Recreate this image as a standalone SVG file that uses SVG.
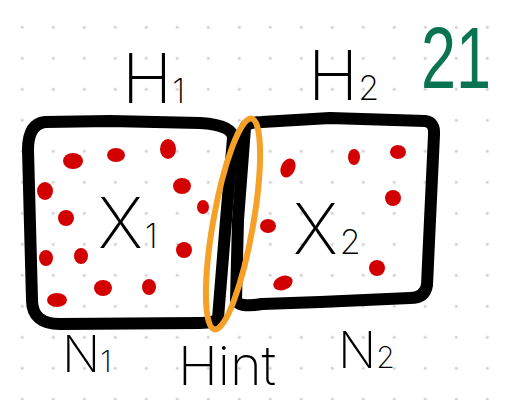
<svg xmlns="http://www.w3.org/2000/svg" width="506" height="400" viewBox="0 0 506 400">
<defs>
<pattern id="grid" x="22.3" y="27.3" width="31" height="31" patternUnits="userSpaceOnUse">
<circle cx="0" cy="0" r="1.6" fill="#cfcfcf"/><circle cx="31" cy="0" r="1.6" fill="#cfcfcf"/><circle cx="0" cy="31" r="1.6" fill="#cfcfcf"/><circle cx="31" cy="31" r="1.6" fill="#cfcfcf"/>
</pattern>
</defs>
<style>
.box{fill:none;stroke:#000;stroke-width:12;stroke-linejoin:round;stroke-linecap:round}
.dot{fill:#d20000}
.t{font-family:"Inter","DejaVu Sans",sans-serif;font-weight:200;fill:#000}
.hint{fill:none;stroke:#f5a027;stroke-width:6}
</style>
<rect width="506" height="400" fill="#fff"/>
<rect width="506" height="400" fill="url(#grid)"/>
<g id="box1">
<path class="box" d="M45,122 L110,121 L200,123 Q233,125 233,138 L226,220 L218,318 Q215,323 200,323 L60,324 Q32,324 32,300 L28,150 Q28,124 45,122 Z"/>
<g class="dot">
<ellipse cx="73" cy="161" rx="10" ry="8"/><ellipse cx="116" cy="155" rx="9" ry="7"/><ellipse cx="168" cy="149" rx="8" ry="10"/>
<ellipse cx="45" cy="191" rx="8" ry="9"/><ellipse cx="182" cy="186" rx="9" ry="8"/><ellipse cx="66" cy="218" rx="8" ry="8"/>
<ellipse cx="203" cy="207" rx="6" ry="7"/><ellipse cx="46" cy="258" rx="7" ry="8"/><ellipse cx="81" cy="256" rx="7" ry="8"/>
<ellipse cx="184" cy="250" rx="8" ry="8"/><ellipse cx="57" cy="300" rx="10" ry="7"/><ellipse cx="103" cy="288" rx="9" ry="8"/>
<ellipse cx="149" cy="287" rx="7" ry="8"/>
</g>
<text class="t" x="98" y="248" font-size="70">X<tspan font-size="34" dx="2">1</tspan></text>
</g>
<g id="box2">
<path class="box" d="M245,128 Q246,122 262,122 L330,118 L425,121 Q435,122 434,135 L430,220 L427,285 Q425,298 410,298 L320,302 L262,304 Q238,308 236,300 L238,220 Z"/>
<g class="dot">
<ellipse cx="288" cy="168" rx="7" ry="10" transform="rotate(25 288 168)"/><ellipse cx="354" cy="157" rx="6" ry="8"/><ellipse cx="398" cy="152" rx="8" ry="7"/>
<ellipse cx="393" cy="198" rx="8" ry="8"/><ellipse cx="268" cy="226" rx="8" ry="7"/><ellipse cx="377" cy="268" rx="8" ry="8"/>
<ellipse cx="283" cy="283" rx="10" ry="7" transform="rotate(-20 283 283)"/>
</g>
<text class="t" x="293" y="254" font-size="70">X<tspan font-size="34" dx="2">2</tspan></text>
</g>
<g id="hint">
<ellipse class="hint" cx="233" cy="224" rx="20" ry="107" transform="rotate(10 233 224)"/>
</g>
<g id="labels">
<text class="t" x="122" y="103" font-size="68">H<tspan font-size="34">1</tspan></text>
<text class="t" x="308" y="100" font-size="68">H<tspan font-size="34">2</tspan></text>
<text class="t" x="62" y="372" font-size="50">N<tspan font-size="30">1</tspan></text>
<text class="t" x="178" y="385" font-size="54">Hint</text>
<text class="t" x="338" y="368" font-size="50">N<tspan font-size="30">2</tspan></text>
<text transform="translate(421,88) scale(0.9,1.25)" font-size="70" font-family="'Liberation Sans',sans-serif" fill="#0a7452">21</text>
</g>
</svg>
